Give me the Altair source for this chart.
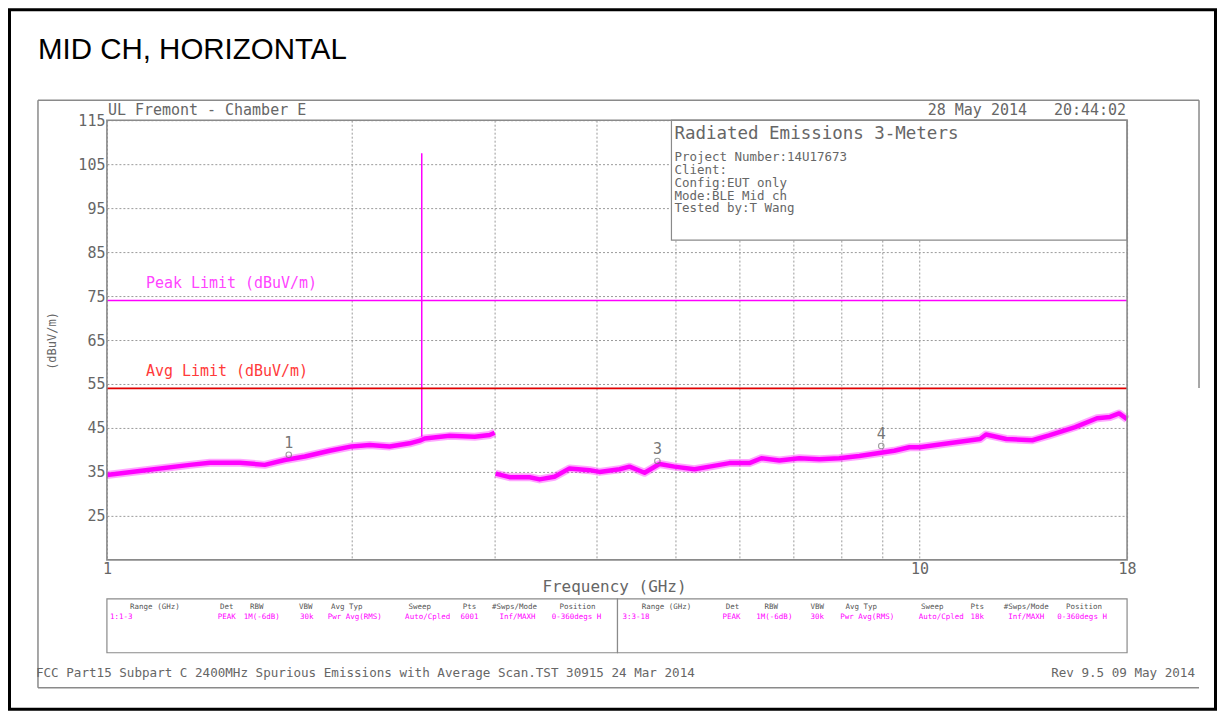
import altair as alt
import pandas as pd

# ---------------- data ----------------
seg1_freq = [1.000, 1.129, 1.265, 1.339, 1.457, 1.564, 1.655, 1.752, 1.880, 2.001,
             2.106, 2.228, 2.358, 2.426, 2.460, 2.641, 2.835, 2.957, 3.000]
seg1_level = [34.3, 35.5, 36.6, 37.1, 37.1, 36.6, 37.7, 38.5, 39.8, 40.8,
              41.1, 40.8, 41.5, 42.1, 42.6, 43.2, 43.0, 43.4, 43.9]

seg2_freq = [3.008, 3.129, 3.313, 3.407, 3.554, 3.709, 3.926, 4.037, 4.273, 4.396,
             4.587, 4.785, 4.993, 5.284, 5.513, 5.834, 6.173, 6.387, 6.721, 7.112,
             7.525, 7.963, 8.427, 8.918, 9.305, 9.711, 10.00, 10.75, 11.87, 12.07,
             12.78, 13.76, 14.43, 15.54, 16.53, 17.15, 17.60, 18.00]
seg2_level = [34.6, 33.8, 33.8, 33.3, 33.9, 35.8, 35.4, 35.0, 35.6, 36.2,
              34.8, 36.8, 36.2, 35.6, 36.2, 37.0, 37.0, 38.1, 37.6, 38.1,
              37.9, 38.1, 38.6, 39.3, 39.8, 40.6, 40.6, 41.4, 42.5, 43.5,
              42.5, 42.2, 43.3, 45.2, 47.2, 47.5, 48.3, 47.0]

spike_freq = [2.44]
spike_low = [43.0]
spike_high = [107.5]

limit_names = ["Peak Limit (dBuV/m)", "Avg Limit (dBuV/m)"]
limit_levels = [74, 54]
limit_colors = ["#ff00ff", "#e00000"]
limit_text_colors = ["#ff44ff", "#ff3a3a"]

marker_ids = ["1", "3", "4"]
marker_freq = [1.674, 4.757, 8.97]
marker_level = [38.9, 37.5, 40.9]

y_ticks = [25, 35, 45, 55, 65, 75, 85, 95, 105, 115]
x_ticks = [1, 2, 3, 4, 5, 6, 7, 8, 9, 10, 18]
x_labelled = [1, 10, 18]

info_title = "Radiated Emissions 3-Meters"
info_lines = ["Project Number:14U17673", "Client:", "Config:EUT only",
              "Mode:BLE Mid ch", "Tested by:T Wang"]

table_headers = ["Range (GHz)", "Det", "RBW", "VBW", "Avg Typ", "Sweep", "Pts",
                 "#Swps/Mode", "Position"]
table1_values = ["1:1-3", "PEAK", "1M(-6dB)", "30k", "Pwr Avg(RMS)", "Auto/Cpled",
                 "6001", "Inf/MAXH", "0-360degs H"]
table2_values = ["3:3-18", "PEAK", "1M(-6dB)", "30k", "Pwr Avg(RMS)", "Auto/Cpled",
                 "18k", "Inf/MAXH", "0-360degs H"]

# ---------------- layout ----------------
W, H = 1021, 440
MONO = "DejaVu Sans Mono"
GREY_TXT = "#666666"
FRAME = "#8a8a8a"
MAG = "#ff00ff"
NB = "\u00a0"

trace = pd.DataFrame({
    "freq": seg1_freq + seg2_freq,
    "level": seg1_level + seg2_level,
    "segment": ["1-3 GHz"] * len(seg1_freq) + ["3-18 GHz"] * len(seg2_freq),
})
spike = pd.DataFrame({"freq": spike_freq, "low": spike_low, "high": spike_high})
limits = pd.DataFrame({"name": limit_names, "level": limit_levels,
                       "color": limit_colors, "tcolor": limit_text_colors})
markers = pd.DataFrame({"id": marker_ids, "freq": marker_freq, "level": marker_level})

xscale = alt.Scale(type="log", domain=[1, 18], nice=False)
yscale = alt.Scale(domain=[15, 115], nice=False, zero=False)

label_expr = " || ".join(f"datum.value == {v}" for v in x_labelled)
xaxis = alt.Axis(values=x_ticks, labelExpr=f"({label_expr}) ? datum.value : ''",
                 ticks=False, domain=False, labelFont=MONO, labelFontSize=15,
                 labelColor=GREY_TXT, labelPadding=2, labelFlush=False,
                 labelOverlap=False, grid=True, gridDash=[2, 2], gridColor="#9a9a9a")
yaxis = alt.Axis(values=y_ticks, ticks=False, domain=False, labelFont=MONO,
                 labelFontSize=15, labelColor=GREY_TXT, labelPadding=2,
                 grid=True, gridDash=[2, 2], gridColor="#9a9a9a")

X = alt.X("freq:Q", scale=xscale, axis=xaxis, title=None)
Y = alt.Y("level:Q", scale=yscale, axis=yaxis, title=None)

one = alt.Data(values=[{}])


def txt(x, y, s, size=12, color=GREY_TXT, align="left", font=MONO, angle=0,
        baseline="middle"):
    return alt.Chart(one).mark_text(
        text=s, font=font, fontSize=size, color=color, align=align,
        baseline=baseline, angle=angle
    ).encode(x=alt.value(x), y=alt.value(y))


def hline(x1, x2, y, color=FRAME, w=1.5):
    return alt.Chart(one).mark_rule(color=color, strokeWidth=w).encode(
        x=alt.value(x1), x2=alt.value(x2), y=alt.value(y))


def vline(x, y1, y2, color=FRAME, w=1.5):
    return alt.Chart(one).mark_rule(color=color, strokeWidth=w).encode(
        x=alt.value(x), y=alt.value(y1), y2=alt.value(y2))


def box(x1, x2, y1, y2, stroke=FRAME, w=1.2, fill="#ffffff", fill_opacity=1.0):
    return alt.Chart(one).mark_rect(stroke=stroke, strokeWidth=w, fill=fill,
                                    fillOpacity=fill_opacity).encode(
        x=alt.value(x1), x2=alt.value(x2), y=alt.value(y1), y2=alt.value(y2))


layers = []

# base trace (defines axes / grid)
halo = alt.Chart(trace).mark_line(color=MAG, strokeWidth=8, opacity=0.35,
                                  strokeJoin="round").encode(
    x=X, y=Y, detail="segment:N")
layers.append(halo)

# info box (hides gridlines beneath it)
layers.append(box(565, W, 0, 120, stroke=FRAME, w=1.2))

core = alt.Chart(trace).mark_line(color=MAG, strokeWidth=4.5,
                                  strokeJoin="round").encode(
    x=X, y=Y, detail="segment:N")
layers.append(core)

spike_layer = alt.Chart(spike).mark_rule(color=MAG, strokeWidth=1.5).encode(
    x=X, y=alt.Y("high:Q", scale=yscale, axis=yaxis, title=None), y2="low:Q")
layers.append(spike_layer)

limit_rules = alt.Chart(limits).mark_rule(strokeWidth=1.6).encode(
    y=Y, color=alt.Color("color:N", scale=None))
layers.append(limit_rules)

limit_text = alt.Chart(limits).mark_text(
    font=MONO, fontSize=15, align="left", baseline="middle", dy=-17
).encode(x=alt.value(39), y=Y, text="name:N", color=alt.Color("tcolor:N", scale=None))
layers.append(limit_text)

marker_pts = alt.Chart(markers).mark_point(shape="circle", size=30, color="#777777",
                                           strokeWidth=1.1, filled=False).encode(x=X, y=Y)
marker_lbl = alt.Chart(markers).mark_text(font=MONO, fontSize=15, color="#777777",
                                          dy=-12, baseline="middle").encode(
    x=X, y=Y, text="id:N")
layers += [marker_pts, marker_lbl]

# plot frame on top
layers.append(box(0, W, 0, H, stroke=FRAME, w=1.6, fill="#ffffff", fill_opacity=0))

# ---------- annotations ----------
layers.append(txt(-69, -70, "MID CH, HORIZONTAL", size=29.5, color="#000000",
                  font="Liberation Sans"))
layers.append(txt(1, -10, "UL Fremont - Chamber E", size=15))
layers.append(txt(1020, -10, "28 May 2014" + NB * 3 + "20:44:02", size=15, align="right"))
layers.append(txt(568, 14, info_title, size=17.5))
for i, line in enumerate(info_lines):
    layers.append(txt(568, 36.7 + 12.9 * i, line, size=12.5))

layers.append(txt(508, 467, "Frequency (GHz)", size=16, align="center"))
layers.append(txt(-55, 221, "(dBuV/m)", size=12, align="center", angle=270))

# outer grey frame
layers.append(hline(-69, 1093, -20))
layers.append(vline(-69, -20, 568))
layers.append(vline(1093, -20, 268))
layers.append(hline(-69, 1093, 568))

# settings tables
layers.append(box(0, 511, 479, 533, stroke=FRAME, w=1.2))
layers.append(box(511, W, 479, 533, stroke=FRAME, w=1.2))
hdr1_x = [48, 120, 150, 199, 240, 313, 363, 408, 471]
val1_x = [3, 120, 155, 200, 248, 321, 363, 411, 470]
hdr2_x = [560, 626, 665, 711, 755, 826, 871, 920, 978]
val2_x = [516, 625, 668, 711, 761, 835, 871, 920, 976]
for j in range(len(table_headers)):
    layers.append(txt(hdr1_x[j], 487, table_headers[j], size=7.5, align="center",
                      color="#555555"))
    layers.append(txt(hdr2_x[j], 487, table_headers[j], size=7.5, align="center",
                      color="#555555"))
    a = "left" if j == 0 else "center"
    layers.append(txt(val1_x[j], 497, table1_values[j], size=7.5, align=a, color=MAG))
    layers.append(txt(val2_x[j], 497, table2_values[j], size=7.5, align=a, color=MAG))

layers.append(txt(-71, 553,
                  "FCC Part15 Subpart C 2400MHz Spurious Emissions with Average Scan.TST 30915 24 Mar 2014",
                  size=12.6))
layers.append(txt(1089, 553, "Rev 9.5 09 May 2014", size=12.6, align="right"))

# black outer border
layers.append(box(-97.5, 1109.5, -110.5, 589.5, stroke="#000000", w=3,
                  fill="#ffffff", fill_opacity=0))

chart = alt.layer(*layers).properties(
    width=W, height=H,
    autosize=alt.AutoSizeParams(type="none"),
    padding={"left": 99, "top": 112, "right": 90, "bottom": 151},
    background="white",
).configure_view(stroke=None, strokeWidth=0)

chart.save("out.html", embed_options={"renderer": "svg", "actions": False})
